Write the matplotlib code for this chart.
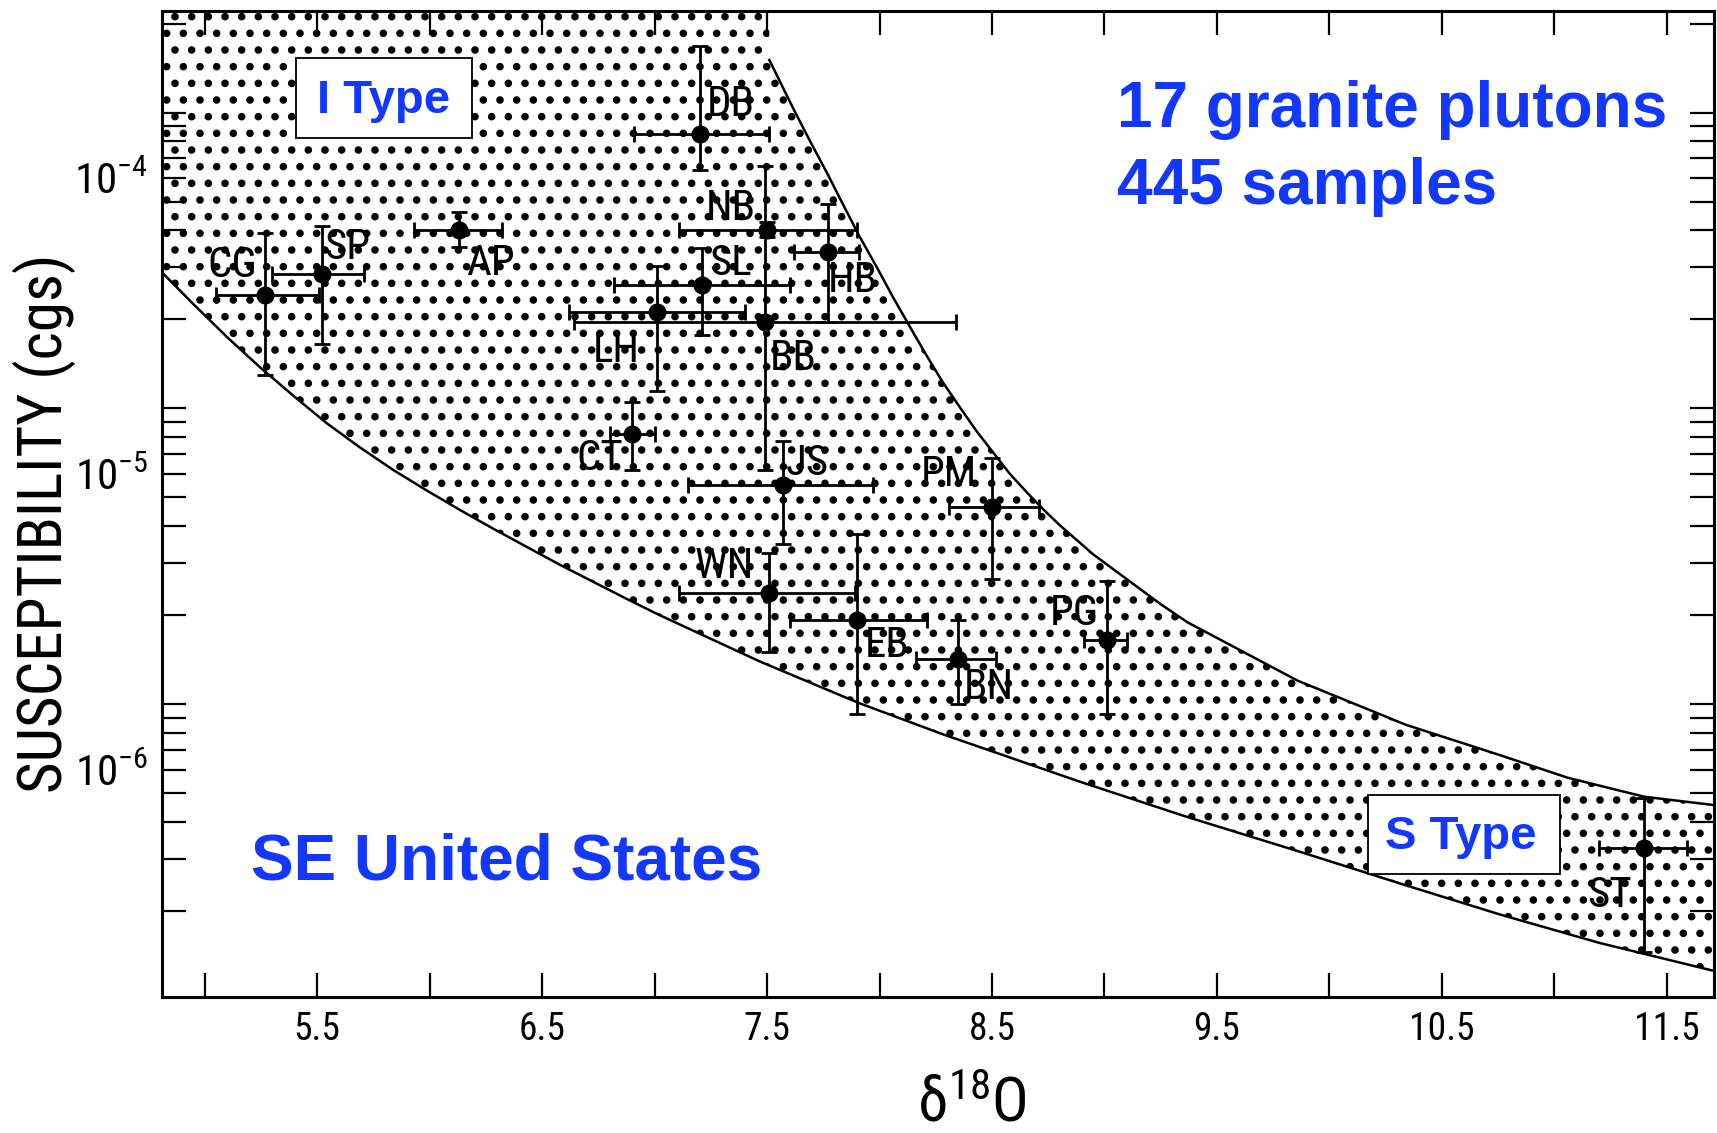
import numpy as np
import matplotlib.pyplot as plt
from matplotlib import font_manager
from matplotlib.patches import Polygon, Rectangle
from matplotlib.ticker import FixedLocator, NullFormatter

avail = {f.name for f in font_manager.fontManager.ttflist}
COND = next((n for n in ['Roboto Condensed', 'Liberation Sans Narrow',
                         'Open Sans Condensed', 'Liberation Sans'] if n in avail), 'DejaVu Sans')
plt.rcParams['font.family'] = [COND, 'DejaVu Sans']
plt.rcParams['mathtext.fontset'] = 'custom'
plt.rcParams['mathtext.rm'] = COND
plt.rcParams['mathtext.it'] = COND + ':italic'
plt.rcParams['mathtext.bf'] = COND + ':bold'
plt.rcParams['hatch.linewidth'] = 3.0

# plutons: mean d18O and susceptibility with error-bar ends
names = ['CG', 'SP', 'AP', 'DB', 'NB', 'BB', 'SL', 'LH', 'HB',
         'CT', 'JS', 'WN', 'EB', 'BN', 'PM', 'PG', 'ST']
d18o = [5.27, 5.52, 6.13, 7.20, 7.50, 7.49, 7.21, 7.01, 7.77,
        6.90, 7.57, 7.51, 7.90, 8.35, 8.50, 9.01, 11.40]
d18o_lo = [5.05, 5.30, 5.93, 6.91, 7.11, 6.64, 6.82, 6.62, 7.62,
           6.80, 7.15, 7.11, 7.60, 8.16, 8.31, 8.91, 11.20]
d18o_hi = [5.51, 5.71, 6.32, 7.51, 7.90, 8.34, 7.60, 7.40, 7.91,
           7.00, 7.97, 7.89, 8.21, 8.52, 8.71, 9.10, 11.59]
chi = [4.03e-5, 4.73e-5, 6.68e-5, 1.41e-4, 6.68e-5, 3.27e-5, 4.35e-5, 3.52e-5, 5.64e-5,
       1.37e-5, 9.17e-6, 3.95e-6, 3.22e-6, 2.37e-6, 7.71e-6, 2.74e-6, 5.46e-7]
chi_lo = [2.16e-5, 2.75e-5, 5.86e-5, 1.07e-4, 6.34e-5, 1.03e-5, 2.95e-5, 1.91e-5, 3.27e-5,
          1.03e-5, 5.80e-6, 2.51e-6, 1.54e-6, 1.67e-6, 4.40e-6, 1.54e-6, 2.42e-7]
chi_hi = [6.54e-5, 6.89e-5, 7.70e-5, 2.80e-4, 7.13e-5, 1.10e-4, 5.79e-5, 5.05e-5, 8.18e-5,
          1.75e-5, 1.29e-5, 5.39e-6, 6.26e-6, 3.22e-6, 1.13e-5, 4.35e-6, 8.00e-7]

# boundaries of the stippled field
upper_x = [7.51, 7.62, 7.69, 7.77, 7.84, 7.91, 7.99, 8.06, 8.14, 8.21, 8.28, 8.36,
           8.43, 8.51, 8.58, 8.66, 8.73, 8.80, 8.95, 9.25, 9.37, 9.86, 10.34,
           10.76, 11.06, 11.40, 11.71]
upper_y = [2.51e-4, 1.70e-4, 1.34e-4, 1.03e-4, 8.09e-5, 6.38e-5, 4.97e-5, 3.96e-5,
           3.10e-5, 2.51e-5, 2.05e-5, 1.67e-5, 1.40e-5, 1.17e-5, 1.00e-5, 8.59e-6,
           7.57e-6, 6.73e-6, 5.35e-6, 3.63e-6, 3.15e-6, 2.00e-6, 1.42e-6,
           1.12e-6, 9.40e-7, 8.11e-7, 7.60e-7]
lower_x = [4.80, 4.95, 5.10, 5.25, 5.39, 5.54, 5.69, 5.84, 5.99, 6.14, 6.28, 6.43,
           6.58, 6.73, 6.88, 7.02, 7.47, 7.91, 8.28, 8.89, 9.37, 9.86, 10.34,
           10.76, 11.20, 11.71]
lower_y = [4.89e-5, 3.75e-5, 2.90e-5, 2.28e-5, 1.85e-5, 1.49e-5, 1.23e-5, 1.03e-5,
           8.77e-6, 7.52e-6, 6.55e-6, 5.68e-6, 4.93e-6, 4.31e-6, 3.77e-6, 3.34e-6,
           2.32e-6, 1.68e-6, 1.32e-6, 9.12e-7, 6.92e-7, 5.31e-7, 4.07e-7,
           3.24e-7, 2.60e-7, 2.09e-7]

# label offsets from each point, in pixels
label_off = [(-33, 29), (26, 27), (31, -33), (31, 30), (-36, 22), (28, -37), (29, 22),
             (-41, -38), (25, -29), (-32, -25), (25, 22), (-45, 27), (30, -26),
             (31, -29), (-43, 33), (-32, 27), (-35, -48)]

BLUE = '#1238ff'
W, H = 1717, 1133
L, R, T, B = 162, 1714, 10.5, 996.7

fig = plt.figure(figsize=(W / 100, H / 100), dpi=100)
ax = fig.add_axes([L / W, 1 - B / H, (R - L) / W, (B - T) / H])
ax.set_yscale('log')
ax.set_xlim(4.81, 11.71)
ax.set_ylim(1.71e-7, 3.69e-4)


def frac(px, py):
    return (px - L) / (R - L), (B - py) / (B - T)


ytop = ax.get_ylim()[1]
verts = list(zip(lower_x, lower_y)) + list(zip(upper_x[::-1], upper_y[::-1])) \
    + [(upper_x[0], ytop), (lower_x[0], ytop)]
ax.add_patch(Polygon(verts, closed=True, fill=False, hatch='.',
                     edgecolor='black', linewidth=0, zorder=1))
ax.plot(upper_x, upper_y, color='black', lw=1.8, zorder=2)
ax.plot(lower_x, lower_y, color='black', lw=1.8, zorder=2)

x = np.array(d18o)
y = np.array(chi)
xerr = [x - np.array(d18o_lo), np.array(d18o_hi) - x]
yerr = [y - np.array(chi_lo), np.array(chi_hi) - y]
ax.errorbar(x, y, xerr=xerr, yerr=yerr, fmt='o', color='black', ms=12,
            elinewidth=2, capsize=6, capthick=2, zorder=4)
for n, xi, yi, off in zip(names, x, y, label_off):
    ax.annotate(n, (xi, yi), xytext=off, textcoords='offset pixels',
                ha='center', va='center', fontsize=31, zorder=5)

# axes styling
for s in ax.spines.values():
    s.set_linewidth(2.2)
xt = np.arange(5.0, 11.51, 0.5)
ax.set_xticks(xt)
ax.set_xticklabels(['' if v % 1 == 0 else f'{v:.1f}' for v in xt], fontsize=27)
ax.set_yticks([1e-6, 1e-5, 1e-4])
ax.set_yticklabels([r'$10^{-6}$', r'$10^{-5}$', r'$10^{-4}$'], fontsize=31)
minor = [m * 10.0 ** j * 10 / 6 for j in range(-8, -3) for m in range(1, 10) if m != 6]
ax.yaxis.set_minor_locator(FixedLocator(minor))
ax.yaxis.set_minor_formatter(NullFormatter())
ax.tick_params(which='both', direction='in', length=17, width=1.6,
               top=True, right=True, pad=10)
ax.set_xlim(4.81, 11.71)
ax.set_ylim(1.71e-7, 3.69e-4)

ax.text(*frac(44, 523), 'SUSCEPTIBILITY (cgs)', transform=ax.transAxes, rotation=90,
        ha='center', va='center', fontsize=44)
ax.text(*frac(972, 1104), r'δ$^{18}$O', transform=ax.transAxes,
        ha='center', va='center', fontsize=44)

# annotation boxes and captions
for (x0, y0, x1, y1) in [(296, 58, 472, 137.5), (1368, 795, 1560, 874)]:
    fx0, fy0 = frac(x0, y1)
    fx1, fy1 = frac(x1, y0)
    ax.add_patch(Rectangle((fx0, fy0), fx1 - fx0, fy1 - fy0, transform=ax.transAxes,
                           facecolor='white', edgecolor='black', lw=1.3, zorder=6))
bold = dict(transform=ax.transAxes, color=BLUE, fontweight='bold', ha='left',
            va='baseline', family=['Liberation Sans', 'DejaVu Sans'], zorder=7)
ax.text(*frac(317, 113), 'I Type', fontsize=34, **bold)
ax.text(*frac(1385, 849), 'S Type', fontsize=34, **bold)
ax.text(*frac(1117, 127), '17 granite plutons', fontsize=46, **bold)
ax.text(*frac(1117, 204), '445 samples', fontsize=46, **bold)
ax.text(*frac(251, 880), 'SE United States', fontsize=46, **bold)

fig.savefig('out.png', dpi=100)
